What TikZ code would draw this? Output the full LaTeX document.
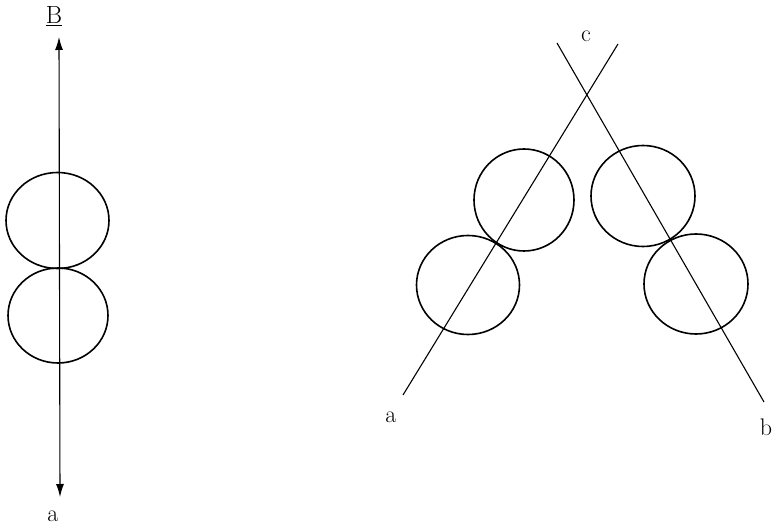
\documentclass[tikz,border=0pt]{standalone}
\usetikzlibrary{arrows.meta}
\begin{document}
\begin{tikzpicture}[x=1pt,y=-1pt,
  axisline/.style={line width=1.1pt},
  ring/.style={line width=1.6pt},
  lbl/.style={font=\fontsize{24}{28}\selectfont, inner sep=0pt}]
\useasboundingbox (0,0) rectangle (773,526);
% left figure
\coordinate (Ltop) at (59,37);
\coordinate (Lbot) at (60,497);
\draw[axisline,{Latex[length=13pt,width=8pt]}-{Latex[length=13pt,width=8pt]}] (Ltop) -- (Lbot);
\draw[ring] (57.5,220.5) ellipse [x radius=51.5, y radius=48];
\draw[ring] (58,315.5) ellipse [x radius=50, y radius=47.5];
\node[lbl] (B) at (54,16) {$\underline{\mathrm{B}}$};
\node[lbl] (la) at (53,516) {a};
% right figure
\coordinate (a1) at (403,395);
\coordinate (a2) at (618,44);
\coordinate (b1) at (557,43);
\coordinate (b2) at (764,402);
\draw[axisline] (a1) -- (a2);
\draw[axisline] (b1) -- (b2);
\draw[ring] (524,200) ellipse [x radius=50, y radius=51];
\draw[ring] (468,285) ellipse [x radius=51.5, y radius=49.5];
\draw[ring] (643,196) ellipse [x radius=52, y radius=50.5];
\draw[ring] (696,284) ellipse [x radius=52, y radius=50];
\node[lbl] (c) at (586,36) {c};
\node[lbl] (ra) at (391,417) {a};
\node[lbl] (rb) at (766,427) {b};
\end{tikzpicture}
\end{document}
